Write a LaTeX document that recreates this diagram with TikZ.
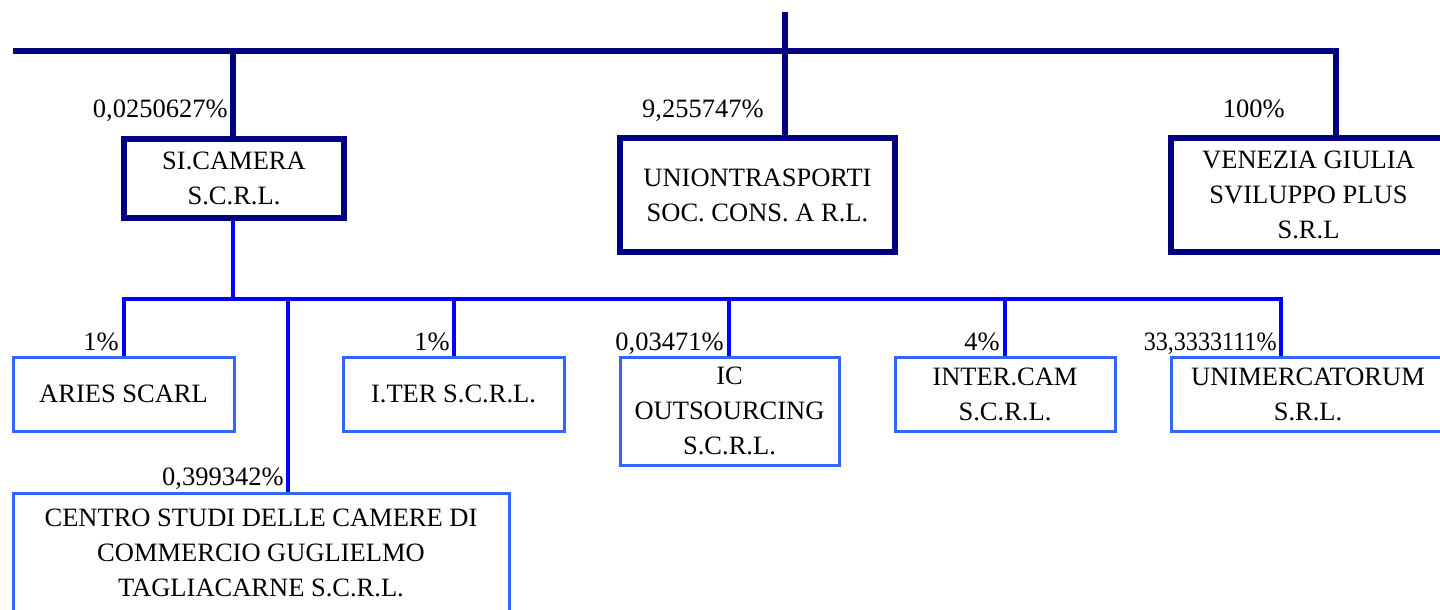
\documentclass[tikz,border=0pt]{standalone}
\usepackage{fontspec}
\usepackage{graphicx}
\setmainfont{Liberation Serif}
\usetikzlibrary{positioning}
\definecolor{navyline}{RGB}{0,0,128}
\definecolor{subline}{RGB}{0,0,255}
\definecolor{subbox}{RGB}{51,102,255}

\begin{document}
\begin{tikzpicture}[
  x=0.5pt, y=-0.5pt,
  every node/.style={font=\fontsize{13.25}{17.5}\selectfont},
  topbox/.style={draw=navyline, line width=2.8pt, rectangle, fill=white, align=center, inner sep=0pt},
  subcompany/.style={draw=subbox, line width=1.5pt, rectangle, fill=white, align=center, inner sep=0pt},
  share/.style={anchor=base east, inner sep=0pt},
  mainlink/.style={draw=navyline, line width=2.8pt},
  sublink/.style={draw=subline, line width=1.6pt}
]
\useasboundingbox (0,0) rectangle (1440,610);

% First level
\node[topbox, minimum width=110pt, minimum height=39.5pt] (sicamera) at (234,178.5) {SI.CAMERA\\S.C.R.L.};
\node[topbox, minimum width=137.5pt, minimum height=57pt] (uniontr) at (757.5,195) {UNIONTRASPORTI\\SOC. CONS. A R.L.};
\node[topbox, minimum width=137.5pt, minimum height=57pt] (venezia) at (1308.5,195) {VENEZIA GIULIA\\SVILUPPO PLUS\\S.R.L};

% Second level
\node[subcompany, minimum width=110.5pt, minimum height=37pt] (aries) at (123.5,394) {ARIES SCARL};
\node[subcompany, minimum width=110.5pt, minimum height=37pt] (iter) at (453.5,394) {I.TER S.C.R.L.};
\node[subcompany, minimum width=109.5pt, minimum height=54pt] (icout) at (729.5,411) {IC\\OUTSOURCING\\S.C.R.L.};
\node[subcompany, minimum width=110pt, minimum height=37pt] (intercam) at (1005,394) {INTER.CAM\\S.C.R.L.};
\node[subcompany, minimum width=137pt, minimum height=37pt] (unimerc) at (1308,394) {UNIMERCATORUM\\S.R.L.};
\node[subcompany, minimum width=248pt, minimum height=59.5pt] (centro) at (261,552.5) {CENTRO STUDI DELLE CAMERE DI\\COMMERCIO GUGLIELMO\\TAGLIACARNE S.C.R.L.};

% Shares
\node[share] (pctsi) at (228,118) {0,0250627\%};
\node[share] (pctun) at (764,118) {9,255747\%};
\node[share] (pctve) at (1285,118) {100\%};
\node[share] (pctar) at (119,350) {1\%};
\node[share] (pctit) at (450,350) {1\%};
\node[share] (pctic) at (724,350) {0,03471\%};
\node[share] (pctin) at (1000,350) {4\%};
\node[share] (pctum) at (1277,350) {\scalebox{0.91}[1]{33,3333111\%}};
\node[share] (pctce) at (284,485) {0,399342\%};

% Junctions
\coordinate (apex) at (785,12);
\coordinate (barleft) at (13,51);
\coordinate (dropsi) at (233,51);
\coordinate (dropun) at (785,51);
\coordinate (dropve) at (1336,51);
\coordinate (dropar) at (124,299);
\coordinate (dropce) at (288,299);
\coordinate (dropit) at (454,299);
\coordinate (dropic) at (729,299);
\coordinate (dropin) at (1005,299);
\coordinate (dropum) at (1281,299);

% Links
\draw[mainlink] (barleft) -- (dropve) -- (dropve |- venezia.north);
\draw[mainlink] (apex) -- (dropun |- uniontr.north);
\draw[mainlink] (dropsi) -- (dropsi |- sicamera.north);
\draw[sublink] (dropsi |- sicamera.south) -- (dropsi |- dropar);
\draw[sublink] (dropar |- aries.north) -- (dropar) -- (dropum) -- (dropum |- unimerc.north);
\draw[sublink] (dropce) -- (dropce |- centro.north);
\draw[sublink] (dropit) -- (dropit |- iter.north);
\draw[sublink] (dropic) -- (dropic |- icout.north);
\draw[sublink] (dropin) -- (dropin |- intercam.north);

\end{tikzpicture}
\end{document}
